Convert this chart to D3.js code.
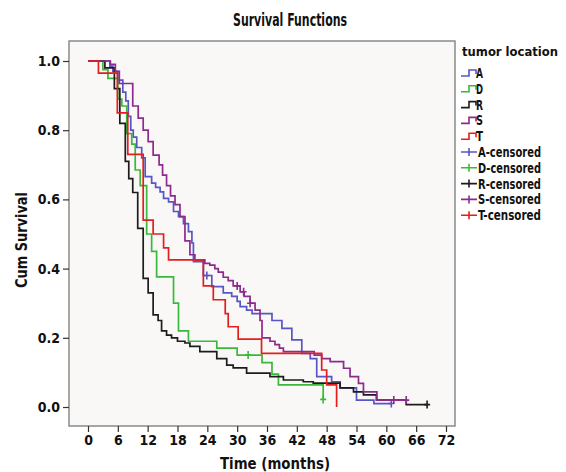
<!DOCTYPE html>
<html>
<head>
<meta charset="utf-8">
<script src="https://cdn.jsdelivr.net/npm/d3@7"></script>
<style>
body { margin: 0; background: #fff; }
text { font-family: "Liberation Sans Narrow", "DejaVu Sans Condensed", sans-serif; font-weight: bold; fill: #111; }
</style>
</head>
<body>
<svg width="566" height="472"></svg>
<script>
// tumor location groups
const groups = ["A", "D", "R", "S", "T"];
const colors = ["#5656c6", "#3bb83b", "#1c1c1c", "#8d2a8d", "#e21f1f"];

// Kaplan-Meier steps: time (months) where survival changes, and new survival value
const timeA = [0, 4.4, 5, 6, 7, 7.6, 8.1, 8.6, 9.1, 9.8, 10.8, 11.5, 12.8, 13.6, 14.5, 15.2, 16.2, 17.2, 18.2, 19.2, 20.2, 20.9, 21.2, 23.2, 24.9, 27.2, 28.9, 30, 30.6, 31.9, 33, 37, 39, 41, 43, 44.7, 46, 49, 50.7, 54, 57.5];
const survA = [1, 0.985, 0.97, 0.945, 0.91, 0.885, 0.84, 0.80, 0.78, 0.75, 0.72, 0.666, 0.647, 0.635, 0.622, 0.603, 0.593, 0.565, 0.55, 0.53, 0.507, 0.474, 0.42, 0.38, 0.348, 0.33, 0.32, 0.305, 0.29, 0.28, 0.27, 0.25, 0.227, 0.194, 0.155, 0.14, 0.088, 0.073, 0.055, 0.02, 0.01];
const censA = [23.9, 61];

const timeD = [0, 3, 4, 6, 6.8, 7.8, 8.8, 9.5, 10.5, 11.8, 12.8, 13.8, 17.2, 18.2, 20.2, 25.9, 30, 35, 37, 38.3, 47.3];
const survD = [1, 0.975, 0.95, 0.89, 0.87, 0.79, 0.76, 0.685, 0.64, 0.50, 0.45, 0.376, 0.30, 0.22, 0.19, 0.17, 0.15, 0.128, 0.095, 0.064, 0.022];
const censD = [32.2, 47.3];

const timeR = [0, 3.4, 5.3, 6.4, 7.5, 8.2, 9, 10, 11.1, 12.1, 13.1, 14.1, 14.8, 15.8, 16.8, 18, 19.5, 20.5, 22.5, 25.9, 27.9, 29.2, 31.9, 36.6, 39.3, 43.3, 45.3, 50.7, 53.4, 55.4, 58, 64];
const survR = [1, 0.98, 0.92, 0.82, 0.71, 0.66, 0.62, 0.516, 0.372, 0.33, 0.266, 0.25, 0.22, 0.208, 0.20, 0.19, 0.185, 0.175, 0.16, 0.14, 0.121, 0.113, 0.098, 0.088, 0.078, 0.073, 0.069, 0.055, 0.044, 0.035, 0.02, 0.007];
const censR = [68.2];

const timeS = [0, 4.5, 5.5, 6.3, 9, 10.1, 11.1, 12.1, 13.1, 14.3, 15, 15.8, 16.6, 17.5, 18.5, 19.5, 20.5, 21.5, 23.5, 24.5, 25.5, 26.2, 27.2, 28.2, 29.2, 30.6, 31.4, 32.6, 33.6, 34.6, 35, 36.6, 37.6, 38.5, 39.3, 45.5, 47, 48.7, 51.4, 52.7, 54.4, 55.4, 58.1];
const survS = [1, 0.99, 0.97, 0.935, 0.87, 0.835, 0.80, 0.767, 0.728, 0.70, 0.67, 0.64, 0.61, 0.585, 0.55, 0.48, 0.44, 0.425, 0.415, 0.41, 0.40, 0.39, 0.375, 0.365, 0.35, 0.333, 0.32, 0.30, 0.28, 0.25, 0.20, 0.19, 0.18, 0.17, 0.16, 0.15, 0.14, 0.131, 0.112, 0.088, 0.068, 0.044, 0.02];
const censS = [30, 31.3, 32.6, 61.5, 64];

const timeT = [0, 2.1, 5.9, 8, 11.1, 13.1, 15.2, 16.2, 23.2, 25.2, 27.6, 28.2, 30.2, 34.9, 47, 48, 50];
const survT = [1, 0.965, 0.85, 0.73, 0.54, 0.50, 0.46, 0.425, 0.35, 0.31, 0.27, 0.232, 0.196, 0.155, 0.107, 0.064, 0];
const censT = [];

const xTicks = [0, 6, 12, 18, 24, 30, 36, 42, 48, 54, 60, 66, 72];
const yTicks = [0, 0.2, 0.4, 0.6, 0.8, 1.0];

const times = [timeA, timeD, timeR, timeS, timeT];
const survs = [survA, survD, survR, survS, survT];
const cens = [censA, censD, censR, censS, censT];

const svg = d3.select("svg");

const x = d3.scaleLinear().domain([0, 72]).range([88, 446]);
const y = d3.scaleLinear().domain([0, 1]).range([407, 61]);

// plot frame
svg.append("rect")
    .attr("x", 69).attr("y", 41)
    .attr("width", 386).attr("height", 385)
    .attr("fill", "#f9f8f6")
    .attr("stroke", "#8a8a8a")
    .attr("stroke-width", 1.5);

// title
svg.append("text")
    .attr("x", 290).attr("y", 26)
    .attr("text-anchor", "middle")
    .attr("font-size", "17px")
    .attr("textLength", 114).attr("lengthAdjust", "spacingAndGlyphs")
    .text("Survival Functions");

// axes
const xAxis = svg.append("g")
    .attr("transform", "translate(0,426)")
    .call(d3.axisBottom(x).tickValues(xTicks).tickSize(6).tickPadding(3));
xAxis.select(".domain").remove();

const yAxis = svg.append("g")
    .attr("transform", "translate(69,0)")
    .call(d3.axisLeft(y).tickValues(yTicks).tickFormat(d3.format(".1f")).tickSize(6).tickPadding(3));
yAxis.select(".domain").remove();

svg.selectAll(".tick text").attr("font-size", "14px").attr("fill", "#111")
    .style("font-family", "'Liberation Sans Narrow', 'DejaVu Sans Condensed', sans-serif")
    .style("font-weight", "bold");
svg.selectAll(".tick line").attr("stroke", "#333").attr("stroke-width", 1.2);

svg.append("text")
    .attr("x", 275).attr("y", 469)
    .attr("text-anchor", "middle")
    .attr("font-size", "16px")
    .attr("textLength", 110).attr("lengthAdjust", "spacingAndGlyphs")
    .text("Time (months)");

svg.append("text")
    .attr("transform", "translate(27,240) rotate(-90)")
    .attr("text-anchor", "middle")
    .attr("font-size", "16px")
    .attr("textLength", 96).attr("lengthAdjust", "spacingAndGlyphs")
    .text("Cum Survival");

// survival value at time t
function survAt(ts, ss, t) {
    let v = ss[0];
    for (let i = 0; i < ts.length; i++) if (ts[i] <= t) v = ss[i];
    return v;
}

const line = d3.line()
    .x(d => x(d[0]))
    .y(d => y(d[1]))
    .curve(d3.curveStepAfter);

groups.forEach(function(g, i) {
    const ts = times[i], ss = survs[i], cs = cens[i];
    const pts = ts.map((t, j) => [t, ss[j]]);
    const tEnd = d3.max([ts[ts.length - 1]].concat(cs));
    if (tEnd > ts[ts.length - 1]) pts.push([tEnd, ss[ss.length - 1]]);

    svg.append("path")
        .datum(pts)
        .attr("fill", "none")
        .attr("stroke", colors[i])
        .attr("stroke-width", 1.7)
        .attr("d", line);

    svg.append("g").selectAll("path")
        .data(cs)
        .enter().append("path")
        .attr("d", function(t) {
            const cx = x(t), cy = y(survAt(ts, ss, t));
            return "M" + cx + "," + (cy - 4) + "V" + (cy + 4) + "M" + (cx - 3) + "," + cy + "H" + (cx + 3);
        })
        .attr("stroke", colors[i])
        .attr("stroke-width", 1.6)
        .attr("fill", "none");
});

// legend
const legend = svg.append("g").attr("transform", "translate(461,0)");
legend.append("text")
    .attr("x", 1).attr("y", 56)
    .attr("font-size", "12.5px")
    .attr("textLength", 96).attr("lengthAdjust", "spacingAndGlyphs")
    .text("tumor location");

groups.forEach(function(g, i) {
    const cy = 73 + i * 15.8;
    legend.append("path")
        .attr("d", "M0," + (cy + 3) + "H8V" + (cy - 3) + "H15V" + (cy + 1))
        .attr("fill", "none")
        .attr("stroke", colors[i])
        .attr("stroke-width", 1.6);
    legend.append("text")
        .attr("x", 15).attr("y", cy + 5)
        .attr("font-size", "13.5px")
        .attr("textLength", 7).attr("lengthAdjust", "spacingAndGlyphs")
        .text(g);
});

groups.forEach(function(g, i) {
    const cy = 73 + (i + 5) * 15.8;
    legend.append("path")
        .attr("d", "M0," + cy + "H16M8," + (cy - 4) + "V" + (cy + 4))
        .attr("fill", "none")
        .attr("stroke", colors[i])
        .attr("stroke-width", 1.6);
    legend.append("text")
        .attr("x", 17).attr("y", cy + 5)
        .attr("font-size", "13.5px")
        .attr("textLength", 63).attr("lengthAdjust", "spacingAndGlyphs")
        .text(g + "-censored");
});
</script>
</body>
</html>
